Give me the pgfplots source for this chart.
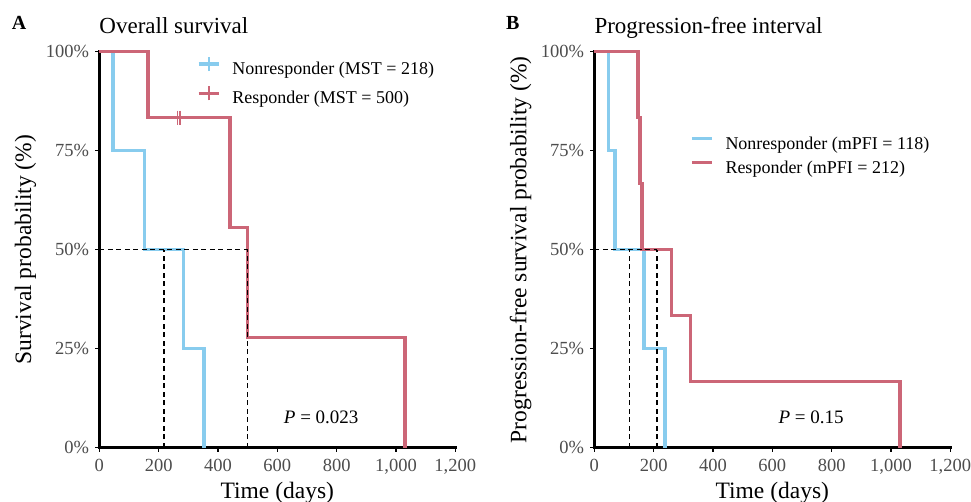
\documentclass[border=0pt]{standalone}
\usepackage{fontspec}
\setmainfont{Liberation Serif}
\usepackage{pgfplots}
\pgfplotsset{compat=1.18}

\definecolor{nonresp}{HTML}{88CCEE}
\definecolor{resp}{HTML}{CC6677}
\definecolor{ticktext}{HTML}{4D4D4D}

\pgfplotsset{
  km/.style={
    scale only axis, width=356bp, height=396bp, anchor=south west,
    xmin=0, xmax=1200, ymin=0, ymax=100,
    axis x line=bottom, axis y line=left,
    axis line style={-, line width=3.5bp, line cap=rect},
    xtick={0,200,...,1200}, ytick={0,25,50,75,100},
    yticklabels={0\%,25\%,50\%,75\%,100\%},
    tick align=outside, major tick length=4bp,
    tick style={black, line width=1.2bp},
    ticklabel style={font=\fontsize{18.5bp}{20bp}\selectfont, text=ticktext, inner sep=0pt},
    xticklabel style={anchor=north},
    yticklabel style={anchor=east},
    xticklabel shift=7.5bp, yticklabel shift=6bp,
    /pgf/number format/assume math mode=true,
    /pgf/number format/1000 sep={,},
    clip=false,
    label style={font=\fontsize{23.5bp}{26bp}\selectfont},
    xlabel={Time (days)},
    xlabel style={at={(axis description cs:0.5,-0.129)}, anchor=base},
    ylabel style={at={(axis description cs:-0.207,0.5)}, anchor=center},
    legend cell align=left,
    legend style={draw=none, fill=none, inner sep=0pt, outer sep=0pt,
      row sep=7bp, column sep=12bp, font=\fontsize{18bp}{20bp}\selectfont,
      nodes={inner sep=0pt, text height=13bp, text depth=4bp}},
  },
  curve/.style={const plot, no marks, line width=3.5bp},
  median/.style={black, line width=1.6bp, dash pattern=on 5bp off 3.5bp, forget plot},
}

\begin{document}
\begin{tikzpicture}
\useasboundingbox (0,0) rectangle (971bp,502bp);

% Panel A: overall survival
\begin{axis}[km, at={(99.3bp,54.3bp)},
  ylabel={Survival probability (\%)},
  legend style={at={(axis description cs:0.2744,0.9884)}, anchor=north west},
  legend image code/.code={
    \draw[#1] (0bp,6bp) -- (20bp,6bp);
    \draw[#1, line width=1.6bp] (10bp,-1bp) -- (10bp,13bp);}]
\addplot[curve, nonresp] coordinates {(0,100) (47,75) (152,50) (283,25) (353,0)};
\addlegendentry{Nonresponder (MST = 218)}
\addplot[curve, resp] coordinates {(0,100) (164,83.33) (441,55.56) (500,27.78) (1030,0)};
\addlegendentry{Responder (MST = 500)}
\addplot[only marks, mark=|, mark size=7bp, resp, mark options={line width=1.6bp}, forget plot]
  coordinates {(264,83.33) (273,83.33)};
\addplot[median] coordinates {(0,50) (500,50)};
\addplot[median] coordinates {(218,0) (218,50)};
\addplot[median] coordinates {(500,0) (500,50)};
\node[anchor=base, font=\fontsize{19bp}{22bp}\selectfont] at (axis cs:748,6) {\textit{P} = 0.023};
\node[anchor=base west, inner sep=0pt, font=\fontsize{23bp}{26bp}\selectfont]
  at (axis description cs:0,1.0447) {Overall survival};
\node[anchor=base west, inner sep=0pt, font=\bfseries\fontsize{20bp}{24bp}\selectfont]
  at (axis description cs:-0.246,1.0566) {A};
\end{axis}

% Panel B: progression-free interval
\begin{axis}[km, at={(594.3bp,54.3bp)},
  ylabel={Progression-free survival probability (\%)},
  legend style={at={(axis description cs:0.2688,0.7864)}, anchor=north west},
  legend image code/.code={\draw[#1] (0bp,6.5bp) -- (20bp,6.5bp);}]
\addplot[curve, nonresp] coordinates {(0,100) (47,75) (70,50) (168,25) (238,0)};
\addlegendentry{Nonresponder (mPFI = 118)}
\addplot[curve, resp] coordinates {(0,100) (147,83.33) (154,66.67) (160,50) (261,33.33) (325,16.67) (1030,0)};
\addlegendentry{Responder (mPFI = 212)}
\addplot[median] coordinates {(0,50) (212,50)};
\addplot[median] coordinates {(118,0) (118,50)};
\addplot[median] coordinates {(212,0) (212,50)};
\node[anchor=base, font=\fontsize{19bp}{22bp}\selectfont] at (axis cs:731,6) {\textit{P} = 0.15};
\node[anchor=base west, inner sep=0pt, font=\fontsize{23bp}{26bp}\selectfont]
  at (axis description cs:0,1.0447) {Progression-free interval};
\node[anchor=base west, inner sep=0pt, font=\bfseries\fontsize{20bp}{24bp}\selectfont]
  at (axis description cs:-0.248,1.0553) {B};
\end{axis}
\end{tikzpicture}
\end{document}
